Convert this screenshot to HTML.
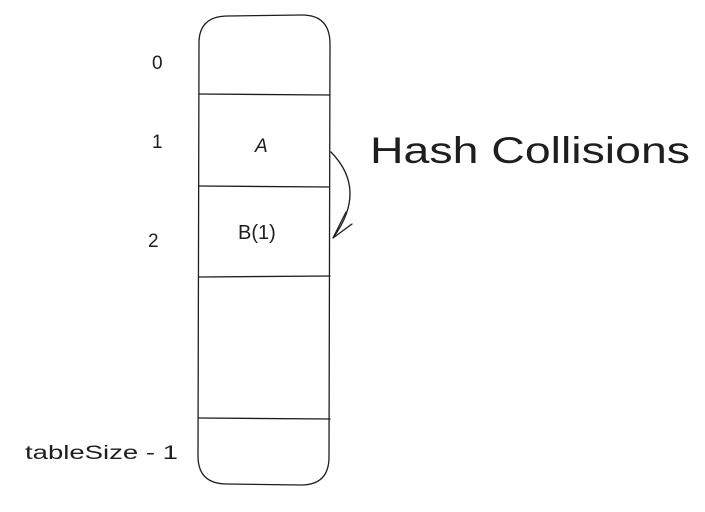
<!DOCTYPE html>
<html><head><meta charset="utf-8"><style>
html,body{margin:0;padding:0;background:#fff;}
svg{display:block;}
text{font-family:"Liberation Sans",sans-serif;fill:#1e1e1e;}
</style></head><body>
<svg width="705" height="512" viewBox="0 0 705 512">
  <g fill="none" stroke="#1e1e1e" stroke-width="1.3" stroke-linecap="round">
    <path d="M228 16 L302 15 Q330 15 330 44 L329 457 Q329 485 301 485 L227 484 Q198 484 198 456 L199 45 Q198 16 228 16 Z"/>
    <path d="M199 94 L330 95"/>
    <path d="M199 186 L329 187"/>
    <path d="M199 277 L330 276"/>
    <path d="M199 418 L330 419"/>
    <path d="M331 152 Q368 190 333 238"/>
    <path d="M346 212 L333 238 L352 224"/>
  </g>
  <text x="152" y="69" font-size="19">0</text>
  <text x="152" y="148" font-size="19">1</text>
  <text x="148" y="247" font-size="19">2</text>
  <text x="25" y="459" font-size="19" textLength="153" lengthAdjust="spacingAndGlyphs">tableSize - 1</text>
  <text x="255" y="152" font-size="19" font-style="italic">A</text>
  <text x="238" y="239" font-size="20">B(1)</text>
  <text x="370" y="163" font-size="37" textLength="320" lengthAdjust="spacingAndGlyphs">Hash Collisions</text>
</svg>
</body></html>
